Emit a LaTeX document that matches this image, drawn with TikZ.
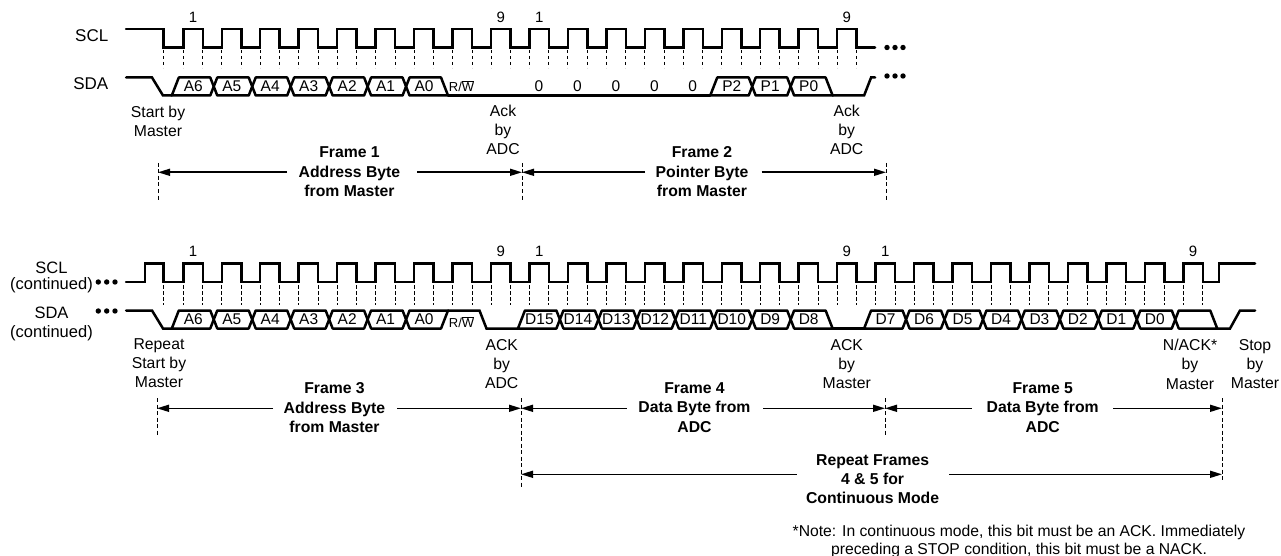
\documentclass[tikz,border=0pt]{standalone}
\usepackage{fontspec}
\setmainfont{Liberation Sans}
\usetikzlibrary{arrows.meta}
\newcommand\risex[1]{(183.3+38.46*(#1-1))}
\newcommand\bitc[1]{(175.3+38.46*(#1-1))}
% full hexagon for bit k: args k, H, L, M
\newcommand\hexX[4]{\draw[bus] ({\bitc{#1}},#4) -- ({\bitc{#1}+3.5},#2) -- ({\bitc{#1+1}-3.5},#2) -- ({\bitc{#1+1}},#4) -- ({\bitc{#1+1}-3.5},#3) -- ({\bitc{#1}+3.5},#3) -- cycle;}
% from low on the left
\newcommand\hexLo[4]{\draw[bus] ({\bitc{#1}-3.5},#3) -- ({\bitc{#1}+3.5},#2) -- ({\bitc{#1+1}-3.5},#2) -- ({\bitc{#1+1}},#4) -- ({\bitc{#1+1}-3.5},#3) -- cycle;}
% to low on the right
\newcommand\hexRLo[4]{\draw[bus] ({\bitc{#1}},#4) -- ({\bitc{#1}+3.5},#2) -- ({\bitc{#1+1}-3.5},#2) -- ({\bitc{#1+1}+3.5},#3) -- ({\bitc{#1}+3.5},#3) -- cycle;}
% to high on the right
\newcommand\hexRHi[4]{\draw[bus] ({\bitc{#1}},#4) -- ({\bitc{#1}+3.5},#2) -- ({\bitc{#1+1}+3.5},#2) -- ({\bitc{#1+1}-3.5},#3) -- ({\bitc{#1}+3.5},#3) -- cycle;}
\begin{document}
\begin{tikzpicture}[x=1pt,y=-1pt,
  sig/.style={line width=2.5pt, line join=miter, line cap=round},
  bus/.style={line width=2.5pt, line join=round, line cap=round},
  tick/.style={line width=0.9pt, dash pattern=on 3.5pt off 2.5pt},
  fdash/.style={line width=1pt, dash pattern=on 4pt off 2.5pt},
  dim/.style={line width=1.6pt, -{Triangle[length=12pt,width=7pt]}},
  lbl/.style={font=\fontsize{15.75}{19.3}\selectfont, align=center, inner sep=0pt, anchor=north},
  flbl/.style={font=\fontsize{15.75}{19.3}\selectfont\bfseries, align=center, inner sep=0pt, anchor=north},
  sidel/.style={font=\fontsize{17}{20}\selectfont, inner sep=0pt},
  sidelb/.style={font=\fontsize{16.5}{19.8}\selectfont, inner sep=0pt},
  hexl/.style={font=\fontsize{15.5}{18}\selectfont, inner sep=0pt},
  rwl/.style={font=\fontsize{13}{15}\selectfont, inner sep=0pt, anchor=base},
  num/.style={font=\fontsize{15}{18}\selectfont, inner sep=0pt},
  notel/.style={font=\fontsize{15.7}{18}\selectfont, align=center, inner sep=0pt, anchor=north}
]
\fill[white] (0,0) rectangle (1281,556);
\path[use as bounding box] (0,0) rectangle (1281,556);

% ================= TOP ROW =================
\node[sidel, anchor=base east] (sclA) at (108.5,41.1) {SCL};
\node[sidel, anchor=base east] (sdaA) at (108.5,89.1) {SDA};

% SCL
\draw[sig] (126,29) -- (163.3,29) -- (163.3,47.5)
  foreach \k in {1,...,18}{ -- ({\risex{\k}},47.5) -- ({\risex{\k}},29) -- ({\risex{\k}+19.5},29) -- ({\risex{\k}+19.5},47.5) }
  -- (875,47.5);
% ticks
\draw[tick] (163.3,50) -- ++(0,18);
\foreach \k in {1,...,18}{
  \draw[tick] ({\risex{\k}},50) -- ++(0,18);
  \draw[tick] ({\risex{\k}+19.5},50) -- ++(0,18);
}
% pulse numbers
\node[num] (nA1) at ({\risex{1}+9.75},17.5) {1};
\node[num] (nA9) at ({\risex{9}+9.75},17.5) {9};
\node[num] (nA10) at ({\risex{10}+9.75},17.5) {1};
\node[num] (nA18) at ({\risex{18}+9.75},17.5) {9};

% SDA
\draw[sig] (126,77.5) -- (152,77.5) -- (163,95.5) -- ({\bitc{1}-3.5},95.5);
\hexLo{1}{77.5}{95.5}{86.5}
\foreach \k in {2,...,6}{\hexX{\k}{77.5}{95.5}{86.5}}
\hexRLo{7}{77.5}{95.5}{86.5}
\draw[sig] ({\bitc{8}+3.5},95.5) -- ({\bitc{15}-3.5},95.5);
\hexLo{15}{77.5}{95.5}{86.5}
\hexX{16}{77.5}{95.5}{86.5}
\hexRLo{17}{77.5}{95.5}{86.5}
\draw[sig] ({\bitc{18}+3.5},95.5) -- ({\bitc{19}-3.5},95.5) -- ({\bitc{19}+3.5},77.5) -- (875,77.5);

\foreach \k/\t in {1/A6,2/A5,3/A4,4/A3,5/A2,6/A1,7/A0,15/P2,16/P1,17/P0}
  \node[hexl] (hA\k) at ({\risex{\k}+10},86.5) {\t};
\foreach \k in {10,...,14}
  \node[hexl] (zA\k) at ({\risex{\k}+9.5},86.5) {0};
\node[rwl] (rwA) at ({\risex{8}+9},91.2) {R/$\overline{\mbox{W}}$};

% dots
\foreach \x in {887,895,903}{
  \fill (\x,47.5) circle (2.7pt);
  \fill (\x,76) circle (2.7pt);
}

% labels
\node[lbl] (startA) at (158,106) {Start by\\Master};
\node[lbl] (ackA1) at (503,104.5) {Ack\\by\\ADC};
\node[lbl] (ackA2) at (846.7,104.5) {Ack\\by\\ADC};
\node[flbl] (fr1) at (349.5,146.7) {Frame 1\\Address Byte\\from Master};
\node[flbl] (fr2) at (702,146.7) {Frame 2\\Pointer Byte\\from Master};

% frame dimension lines
\draw[fdash] (158,163) -- (158,200);
\draw[fdash] (522,163) -- (522,200);
\draw[fdash] (886,163) -- (886,200);
\coordinate (f1L) at (158,172.3);
\coordinate (f1R) at (522,172.3);
\coordinate (f2R) at (886,172.3);
\coordinate (f1a) at (287,172.3);
\coordinate (f1b) at (417,172.3);
\coordinate (f2a) at (645,172.3);
\coordinate (f2b) at (761.7,172.3);
\draw[dim] (f1a) -- (f1L);
\draw[dim] (f1b) -- (f1R);
\draw[dim] (f2a) -- (f1R);
\draw[dim] (f2b) -- (f2R);

% ================= BOTTOM ROW =================
\node[sidelb, align=center, anchor=north] (sclB) at (51.5,262.2) {SCL\\[-4.5pt](continued)};
\node[sidelb, align=center, anchor=north] (sdaB) at (51.5,307.2) {SDA\\[-1.4pt](continued)};
\foreach \x in {98.3,106.7,115}{
  \fill (\x,282) circle (2.7pt);
  \fill (\x,311) circle (2.7pt);
}

% SCL
\draw[sig] (126,282) -- (145,282) -- (145,263.5) -- (163.3,263.5) -- (163.3,282)
  foreach \k in {1,...,27}{ -- ({\risex{\k}},282) -- ({\risex{\k}},263.5) -- ({\risex{\k}+19.5},263.5) -- ({\risex{\k}+19.5},282) }
  -- (1219,282) -- (1219,263.5) -- (1255,263.5);
\draw[tick] (163.3,285) -- ++(0,20);
\foreach \k in {1,...,27}{
  \draw[tick] ({\risex{\k}},285) -- ++(0,20);
  \draw[tick] ({\risex{\k}+19.5},285) -- ++(0,20);
}
\foreach \k/\t in {1/1,9/9,10/1,18/9,19/1,27/9}
  \node[num] (nB\k) at ({\risex{\k}+9.75},251.7) {\t};

% SDA
\draw[sig] (126,310.5) -- (152,310.5) -- (163,328.5) -- ({\bitc{1}-3.5},328.5);
\hexLo{1}{310.5}{328.5}{319.5}
\foreach \k in {2,...,6}{\hexX{\k}{310.5}{328.5}{319.5}}
\hexRHi{7}{310.5}{328.5}{319.5}
\draw[sig] ({\bitc{8}+3.5},310.5) -- ({\bitc{9}-3.5},310.5) -- ({\bitc{9}+3.5},328.5) -- ({\bitc{10}-3.5},328.5);
\hexLo{10}{310.5}{328.5}{319.5}
\foreach \k in {11,...,16}{\hexX{\k}{310.5}{328.5}{319.5}}
\hexRLo{17}{310.5}{328.5}{319.5}
\draw[sig] ({\bitc{18}+3.5},328.5) -- ({\bitc{19}-3.5},328.5);
\hexLo{19}{310.5}{328.5}{319.5}
\foreach \k in {20,...,26}{\hexX{\k}{310.5}{328.5}{319.5}}
\hexRLo{27}{310.5}{328.5}{319.5}
\draw[sig] ({\bitc{28}+3.5},328.5) -- (1230,328.5) -- (1240,310.5) -- (1255,310.5);

\foreach \k/\t in {1/A6,2/A5,3/A4,4/A3,5/A2,6/A1,7/A0,10/D15,11/D14,12/D13,13/D12,14/D11,15/D10,16/D9,17/D8,19/D7,20/D6,21/D5,22/D4,23/D3,24/D2,25/D1,26/D0}
  \node[hexl] (hB\k) at ({\risex{\k}+10},319.5) {\t};
\node[rwl] (rwB) at ({\risex{8}+9},327.2) {R/$\overline{\mbox{W}}$};

% labels
\node[lbl] (rstart) at (159,338) {Repeat\\Start by\\Master};
\node[lbl] (ackB1) at (501.7,339) {ACK\\by\\ADC};
\node[lbl] (ackB2) at (846.7,339) {ACK\\by\\Master};
\node[lbl] (nack) at (1190,339) {N/ACK*\\by\\Master};
\node[lbl] (stopB) at (1255,339) {Stop\\by\\Master};
\node[flbl] (fr3) at (334.5,382.5) {Frame 3\\Address Byte\\from Master};
\node[flbl] (fr4) at (694.5,382.5) {Frame 4\\Data Byte from\\ADC};
\node[flbl] (fr5) at (1042.7,382.5) {Frame 5\\Data Byte from\\ADC};
\node[flbl] (rep) at (872.6,454.2) {Repeat Frames\\4 \& 5 for\\Continuous Mode};

\draw[fdash] (157,398) -- (157,436.7);
\draw[fdash] (521,398) -- (521,487);
\draw[fdash] (885,398) -- (885,436.7);
\draw[fdash] (1222,398) -- (1222,481.7);
\coordinate (f3L) at (157,408.3);
\coordinate (f3R) at (521,408.3);
\coordinate (f4R) at (885,408.3);
\coordinate (f5R) at (1222,408.3);
\coordinate (f3a) at (273,408.3);
\coordinate (f3b) at (397,408.3);
\coordinate (f4a) at (626.7,408.3);
\coordinate (f4b) at (763,408.3);
\coordinate (f5a) at (971.7,408.3);
\coordinate (f5b) at (1113,408.3);
\draw[dim] (f3a) -- (f3L);
\draw[dim] (f3b) -- (f3R);
\draw[dim] (f4a) -- (f3R);
\draw[dim] (f4b) -- (f4R);
\draw[dim] (f5a) -- (f4R);
\draw[dim] (f5b) -- (f5R);
\coordinate (rL) at (521,474.3);
\coordinate (rR) at (1222,474.3);
\coordinate (ra) at (796.7,474.3);
\coordinate (rb) at (949,474.3);
\draw[dim] (ra) -- (rL);
\draw[dim] (rb) -- (rR);

\node[notel] (note) at (1019,524.7) {*Note: In continuous mode, this bit must be an ACK. Immediately\\preceding a STOP condition, this bit must be a NACK.};
\end{tikzpicture}
\end{document}
